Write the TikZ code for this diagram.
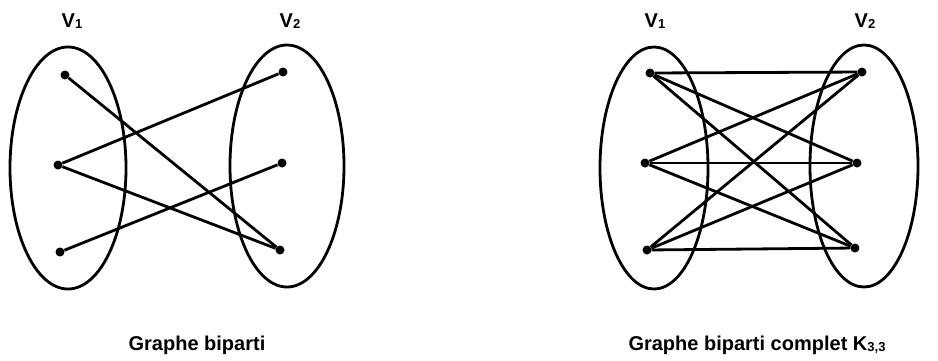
\documentclass[tikz,border=0pt]{standalone}
\usepackage{fontspec}
\setmainfont{Liberation Sans}
\usetikzlibrary{shapes.geometric}
\newcommand{\lowidx}[1]{\raisebox{-1.5pt}{\fontsize{13}{13}\selectfont #1}}

\begin{document}
\begin{tikzpicture}[x=1pt, y=-1pt, font=\bfseries\fontsize{20}{20}\selectfont,
    part/.style={ellipse, draw, line width=2.8pt, inner sep=0pt},
    vtx/.style={circle, fill, inner sep=0pt, minimum size=9pt},
    edge/.style={line width=2.8pt},
    lbl/.style={anchor=base}]
    \useasboundingbox (0,0) rectangle (938,360);
    % graphe biparti
    \node[part, minimum width=116pt, minimum height=242pt] (pa) at (68,168)  {};
    \node[part, minimum width=114pt, minimum height=242pt] (pb) at (287,166) {};
    \node[lbl] (na) at (72,27)  {V\lowidx{1}};
    \node[lbl] (nb) at (290,27) {V\lowidx{2}};
    \node[vtx] (a1) at (65,75)  {};
    \node[vtx] (a2) at (58,165) {};
    \node[vtx] (a3) at (60,252) {};
    \node[vtx] (b1) at (283,72)  {};
    \node[vtx] (b2) at (282,163) {};
    \node[vtx] (b3) at (280,250) {};
    \draw[edge] (a1) -- (b3);
    \draw[edge] (a2) -- (b1);
    \draw[edge] (a2) -- (b3);
    \draw[edge] (a3) -- (b2);
    \node[lbl] (ta) at (197,350) {Graphe biparti};
    % graphe biparti complet
    \node[part, minimum width=108pt, minimum height=242pt] (qa) at (654,168) {};
    \node[part, minimum width=108pt, minimum height=242pt] (qb) at (864,166) {};
    \node[lbl] (ma) at (655,27) {V\lowidx{1}};
    \node[lbl] (mb) at (865,27) {V\lowidx{2}};
    \node[vtx] (c1) at (650,73)  {};
    \node[vtx] (c2) at (645,163) {};
    \node[vtx] (c3) at (647,250) {};
    \node[vtx] (d1) at (862,72)  {};
    \node[vtx] (d2) at (857,163) {};
    \node[vtx] (d3) at (855,248) {};
    \foreach \i in {1,2,3}
      \foreach \j in {1,2,3}
        \draw[edge] (c\i) -- (d\j);
    \node[lbl] (tb) at (757,350) {Graphe biparti complet K\lowidx{3,3}};
\end{tikzpicture}
\end{document}
